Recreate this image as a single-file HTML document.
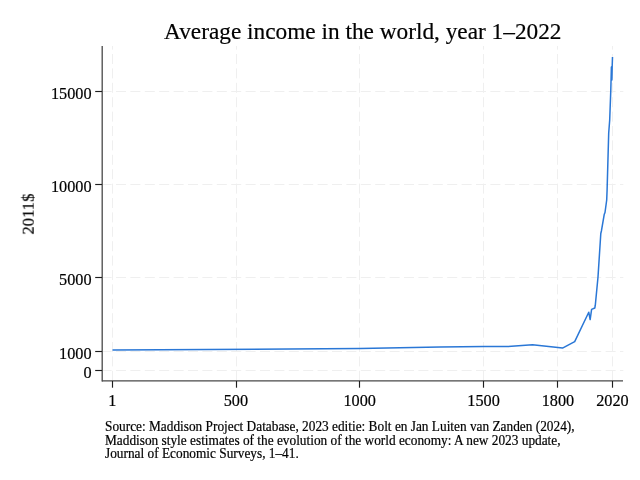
<!DOCTYPE html>
<html><head><meta charset="utf-8"><style>
html,body{margin:0;padding:0;background:#fff;width:640px;height:480px;overflow:hidden}
svg{display:block;font-family:"Liberation Serif",serif}
text{fill:#000;stroke:#000;stroke-width:0.2px}
.g{will-change:transform}
</style></head><body>
<svg width="640" height="480" viewBox="0 0 640 480">
<rect width="640" height="480" fill="#fff"/>
<line x1="101.6" y1="370.50" x2="623.3" y2="370.50" stroke="#efefef" stroke-width="1" stroke-dasharray="10,4.4"/><line x1="101.6" y1="351.50" x2="623.3" y2="351.50" stroke="#efefef" stroke-width="1" stroke-dasharray="10,4.4"/><line x1="101.6" y1="277.50" x2="623.3" y2="277.50" stroke="#efefef" stroke-width="1" stroke-dasharray="10,4.4"/><line x1="101.6" y1="184.50" x2="623.3" y2="184.50" stroke="#efefef" stroke-width="1" stroke-dasharray="10,4.4"/><line x1="101.6" y1="91.50" x2="623.3" y2="91.50" stroke="#efefef" stroke-width="1" stroke-dasharray="10,4.4"/><line x1="112.50" y1="380.8" x2="112.50" y2="46" stroke="#efefef" stroke-width="1" stroke-dasharray="10,4.4"/><line x1="236.50" y1="380.8" x2="236.50" y2="46" stroke="#efefef" stroke-width="1" stroke-dasharray="10,4.4"/><line x1="359.50" y1="380.8" x2="359.50" y2="46" stroke="#efefef" stroke-width="1" stroke-dasharray="10,4.4"/><line x1="483.50" y1="380.8" x2="483.50" y2="46" stroke="#efefef" stroke-width="1" stroke-dasharray="10,4.4"/><line x1="557.50" y1="380.8" x2="557.50" y2="46" stroke="#efefef" stroke-width="1" stroke-dasharray="10,4.4"/><line x1="612.50" y1="380.8" x2="612.50" y2="46" stroke="#efefef" stroke-width="1" stroke-dasharray="10,4.4"/>
<path d="M112.5,350 L360,348.5 L440,347 L484,346.4 L508,346.6 L532.5,344.7 L562.5,348.1 L574.7,341.6 L588.75,312.2 L590.15,319.6 L591.6,309.4 L594.8,308 L595.3,305.2 L598.0,277 L600.8,233.5 L601.4,231 L604.2,214.6 L605.0,212.5 L606.7,200 L607.1,190 L608.7,133 L609.7,120 L610.8,90 L611.4,67 L611.9,80 L612.2,66 L612.5,57" fill="none" stroke="#2a77d6" stroke-width="1.5" stroke-linejoin="round"/>
<line x1="102.2" y1="46" x2="102.2" y2="381.45" stroke="#484848" stroke-width="1.3"/>
<line x1="101.9" y1="380.8" x2="623" y2="380.8" stroke="#484848" stroke-width="1.3"/>
<line x1="95.2" y1="370.50" x2="102" y2="370.50" stroke="#1e1e1e" stroke-width="1.15"/><line x1="95.2" y1="351.50" x2="102" y2="351.50" stroke="#1e1e1e" stroke-width="1.15"/><line x1="95.2" y1="277.50" x2="102" y2="277.50" stroke="#1e1e1e" stroke-width="1.15"/><line x1="95.2" y1="184.50" x2="102" y2="184.50" stroke="#1e1e1e" stroke-width="1.15"/><line x1="95.2" y1="91.50" x2="102" y2="91.50" stroke="#1e1e1e" stroke-width="1.15"/><line x1="112.50" y1="381" x2="112.50" y2="387.7" stroke="#1e1e1e" stroke-width="1.15"/><line x1="236.50" y1="381" x2="236.50" y2="387.7" stroke="#1e1e1e" stroke-width="1.15"/><line x1="359.50" y1="381" x2="359.50" y2="387.7" stroke="#1e1e1e" stroke-width="1.15"/><line x1="483.50" y1="381" x2="483.50" y2="387.7" stroke="#1e1e1e" stroke-width="1.15"/><line x1="557.50" y1="381" x2="557.50" y2="387.7" stroke="#1e1e1e" stroke-width="1.15"/><line x1="612.50" y1="381" x2="612.50" y2="387.7" stroke="#1e1e1e" stroke-width="1.15"/>
<g class="g" style="opacity:0.999"><text x="91.5" y="377.60" text-anchor="end" font-size="16.25">0</text><text x="91.5" y="359.01" text-anchor="end" font-size="16.25">1000</text><text x="91.5" y="284.63" text-anchor="end" font-size="16.25">5000</text><text x="91.5" y="191.67" text-anchor="end" font-size="16.25">10000</text><text x="91.5" y="98.70" text-anchor="end" font-size="16.25">15000</text><text x="112.25" y="405.9" text-anchor="middle" font-size="16.25">1</text><text x="235.86" y="405.9" text-anchor="middle" font-size="16.25">500</text><text x="359.72" y="405.9" text-anchor="middle" font-size="16.25">1000</text><text x="483.58" y="405.9" text-anchor="middle" font-size="16.25">1500</text><text x="557.90" y="405.9" text-anchor="middle" font-size="16.25">1800</text><text x="612.40" y="405.9" text-anchor="middle" font-size="16.25">2020</text>
<text x="362.8" y="38.5" text-anchor="middle" font-size="23.3">Average income in the world, year 1–2022</text>
<text transform="translate(33.7,214.1) rotate(-90)" text-anchor="middle" font-size="16.6">2011$</text>
<text transform="translate(105,430.8) scale(1,1.06)" font-size="13.33">Source: Maddison Project Database, 2023 editie: Bolt en Jan Luiten van Zanden (2024),</text>
<text transform="translate(105,444.6) scale(1,1.06)" font-size="13.33">Maddison style estimates of the evolution of the world economy: A new 2023 update,</text>
<text transform="translate(105,457.8) scale(1,1.06)" font-size="13.33">Journal of Economic Surveys, 1–41.</text></g>
</svg>
</body></html>
